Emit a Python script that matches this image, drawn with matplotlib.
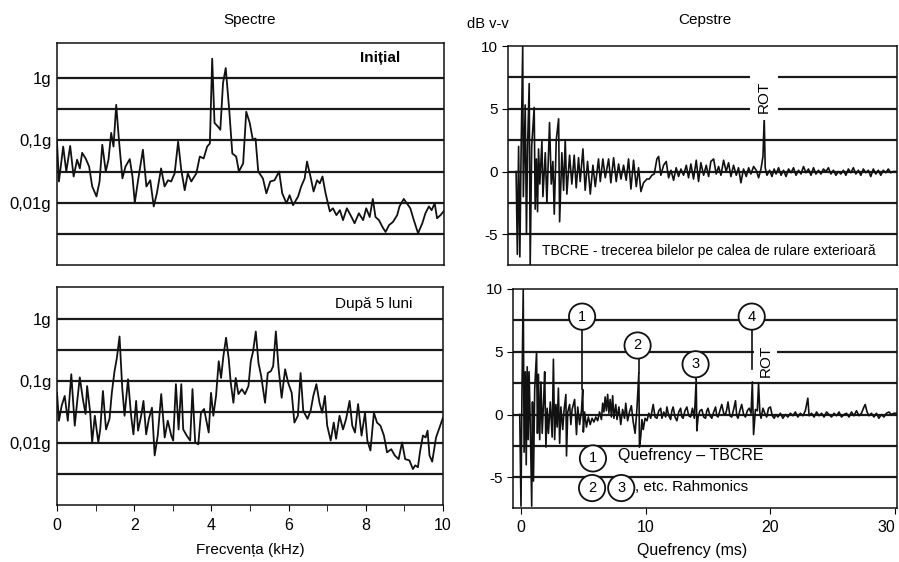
import matplotlib.pyplot as plt
import numpy as np

plt.rcParams["font.family"] = ["Liberation Sans", "DejaVu Sans"]

# --- spectrum, initial (kHz, log10 of amplitude in g)
init_f = [0.00, 0.05, 0.16, 0.24, 0.34, 0.43, 0.52, 0.59, 0.65, 0.74, 0.83, 0.91, 1.02, 1.10,
          1.17, 1.26, 1.33, 1.40, 1.46, 1.53, 1.60, 1.69, 1.77, 1.88, 1.95, 2.01, 2.09, 2.22,
          2.31, 2.41, 2.50, 2.58, 2.69, 2.78, 2.87, 2.95, 3.04, 3.13, 3.21, 3.30, 3.38, 3.47,
          3.60, 3.69, 3.79, 3.88, 3.95, 4.01, 4.07, 4.16, 4.22, 4.29, 4.36, 4.45, 4.53, 4.63,
          4.70, 4.81, 4.89, 4.98, 5.06, 5.13, 5.20, 5.32, 5.41, 5.51, 5.62, 5.74, 5.82, 5.93,
          6.01, 6.10, 6.23, 6.31, 6.40, 6.46, 6.55, 6.63, 6.72, 6.79, 6.86, 6.94, 7.05, 7.13,
          7.22, 7.31, 7.39, 7.49, 7.61, 7.69, 7.80, 7.91, 7.99, 8.08, 8.16, 8.23, 8.32, 8.41,
          8.49, 8.58, 8.68, 8.79, 8.85, 8.96, 9.04, 9.13, 9.22, 9.33, 9.44, 9.52, 9.61, 9.68,
          9.76, 9.82, 9.91, 10.0]
init_lg = [-1.02, -1.66, -1.10, -1.50, -1.09, -1.58, -1.31, -1.45, -1.20, -1.29, -1.42, -1.74,
           -1.90, -1.66, -1.07, -1.50, -1.31, -0.88, -1.10, -0.43, -0.99, -1.61, -1.42, -1.30,
           -1.58, -2.00, -1.66, -1.15, -1.74, -1.64, -2.06, -1.85, -1.45, -1.74, -1.64, -1.66,
           -1.53, -1.02, -1.47, -1.80, -1.53, -1.66, -1.53, -1.26, -1.29, -1.10, -1.05, 0.31,
           -0.72, -0.78, -0.83, -0.08, 0.16, -0.51, -1.21, -1.26, -1.50, -1.37, -0.54, -0.72,
           -0.99, -0.97, -1.50, -1.61, -1.85, -1.66, -1.64, -1.50, -1.85, -2.01, -1.88, -2.04,
           -1.90, -1.74, -1.61, -1.34, -1.58, -1.82, -1.64, -1.69, -1.58, -1.85, -2.14, -2.09,
           -2.20, -2.12, -2.28, -2.09, -2.23, -2.33, -2.17, -2.28, -2.09, -2.23, -1.94, -2.23,
           -2.28, -2.39, -2.47, -2.36, -2.31, -2.20, -2.06, -1.94, -2.01, -2.09, -2.28, -2.49,
           -2.33, -2.17, -2.06, -2.12, -2.01, -2.25, -2.20, -2.13]

# --- spectrum, after 5 months
late_f = [0.00, 0.05, 0.12, 0.20, 0.28, 0.37, 0.46, 0.52, 0.59, 0.67, 0.74, 0.78, 0.86, 0.91,
          0.98, 1.07, 1.12, 1.19, 1.27, 1.36, 1.42, 1.49, 1.55, 1.62, 1.69, 1.75, 1.84, 1.92,
          1.98, 2.05, 2.10, 2.18, 2.24, 2.31, 2.38, 2.46, 2.53, 2.61, 2.70, 2.79, 2.87, 2.96,
          3.01, 3.08, 3.15, 3.22, 3.27, 3.36, 3.45, 3.51, 3.58, 3.66, 3.73, 3.81, 3.88, 3.93,
          3.99, 4.05, 4.12, 4.19, 4.25, 4.31, 4.38, 4.45, 4.50, 4.57, 4.63, 4.70, 4.79, 4.87,
          4.96, 5.02, 5.08, 5.15, 5.22, 5.29, 5.39, 5.46, 5.54, 5.60, 5.67, 5.74, 5.82, 5.91,
          5.99, 6.08, 6.15, 6.24, 6.31, 6.38, 6.49, 6.57, 6.64, 6.72, 6.80, 6.87, 6.94, 7.00,
          7.09, 7.17, 7.23, 7.32, 7.41, 7.49, 7.58, 7.65, 7.72, 7.80, 7.89, 7.98, 8.04, 8.12,
          8.21, 8.29, 8.38, 8.47, 8.55, 8.66, 8.75, 8.85, 8.94, 9.02, 9.13, 9.22, 9.28, 9.35,
          9.41, 9.48, 9.55, 9.60, 9.65, 9.72, 9.82, 10.0]
late_lg = [-1.19, -1.64, -1.40, -1.24, -1.64, -0.89, -1.72, -1.35, -0.94, -1.29, -1.53, -1.08,
           -1.51, -1.99, -1.56, -1.99, -1.78, -1.16, -1.78, -1.61, -1.19, -0.84, -0.63, -0.28,
           -1.11, -1.56, -0.97, -1.56, -1.86, -1.32, -1.80, -1.56, -1.32, -1.86, -1.61, -1.43,
           -2.20, -1.88, -1.21, -1.91, -1.64, -1.88, -1.96, -1.05, -1.78, -1.05, -1.78, -1.88,
           -1.96, -1.13, -1.99, -2.02, -1.51, -1.45, -1.67, -1.83, -1.19, -1.56, -1.24, -0.68,
           -0.95, -0.60, -0.30, -0.65, -1.02, -1.35, -0.95, -1.21, -1.13, -1.21, -1.08, -0.68,
           -0.52, -0.20, -0.71, -0.92, -1.35, -0.87, -0.84, -0.76, -0.20, -0.79, -1.27, -0.81,
           -1.03, -1.19, -1.67, -1.56, -0.87, -1.48, -1.61, -1.48, -1.24, -1.05, -1.35, -1.51,
           -1.24, -1.72, -1.96, -1.67, -1.93, -1.56, -1.78, -1.61, -1.32, -1.72, -1.83, -1.37,
           -1.88, -1.51, -1.96, -2.12, -1.51, -1.67, -1.72, -1.88, -2.15, -2.10, -2.20, -2.26,
           -1.99, -2.26, -2.28, -2.42, -2.36, -2.39, -2.12, -1.88, -1.91, -1.80, -2.20, -2.30,
           -1.91, -1.59]

# --- cepstrum, initial (ms, dB v-v)
cep1_q = [-0.25, -0.15, -0.05, 0.05, 0.15, 0.28, 0.33, 0.48, 0.58, 0.67, 0.80, 0.88, 1.00,
          1.20, 1.28, 1.38, 1.47, 1.55, 1.65, 1.82, 1.90, 2.09, 2.22, 2.43, 2.57, 2.70, 2.81,
          2.97, 3.16, 3.24, 3.42, 3.56, 3.69, 3.82, 4.04, 4.22, 4.41, 4.57, 4.76, 4.89, 5.11,
          5.29, 5.48, 5.70, 5.91, 6.10, 6.36, 6.50, 6.71, 6.90, 7.17, 7.35, 7.57, 7.78, 7.97,
          8.16, 8.37, 8.58, 8.77, 8.96, 9.17, 9.39, 9.57, 9.76, 9.97, 10.24, 10.43, 10.64,
          10.83, 11.04, 11.18, 11.36, 11.58, 11.79, 11.98, 12.17, 12.38, 12.59, 12.78, 12.97,
          13.18, 13.40, 13.58, 13.77, 13.98, 14.20, 14.38, 14.57, 14.79, 15.00, 15.19, 15.37,
          15.59, 15.80, 15.99, 16.18, 16.39, 16.60, 16.79, 16.98, 17.19, 17.41, 17.59, 17.78,
          17.99, 18.21, 18.40, 18.58, 18.80, 19.01, 19.20, 19.39, 19.55, 19.65, 19.73, 19.87,
          20.08, 20.27, 20.45, 20.6, 20.8, 21.0, 21.2, 21.4, 21.6, 21.8, 22.0, 22.2, 22.4,
          22.6, 22.8, 23.0, 23.2, 23.4, 23.6, 23.8, 24.0, 24.2, 24.4, 24.6, 24.8, 25.0, 25.2,
          25.4, 25.6, 25.8, 26.0, 26.2, 26.4, 26.6, 26.8, 27.0, 27.2, 27.4, 27.6, 27.8, 28.0,
          28.2, 28.4, 28.6, 28.8, 29.0, 29.2, 29.4, 29.6, 29.8, 30.0, 30.3]
cep1_v = [0.0, -6.6, 2.0, -6.8, 1.5, 10.0, -2.0, 5.3, -5.0, 2.0, 7.0, -7.5, 2.0,
          5.1, -3.0, 1.0, -3.2, 1.8, -1.0, 2.4, -2.0, 1.5, -2.5, 3.9, -1.0, 0.8, -3.4,
          2.5, 4.2, -4.0, 1.5, -1.5, 2.5, -1.8, 1.3, -1.0, 1.3, -1.3, 1.1, -0.8, 1.8,
          -1.5, 0.8, -1.8, 0.5, -1.2, 1.0, -0.8, 1.0, -0.5, 1.0, -0.9, 1.1, -0.8, 0.6,
          -0.6, 0.5, -0.7, 1.0, -1.4, 0.9, -1.2, 0.3, -1.6, -0.9, -0.6, -0.6, -0.3,
          -0.2, 1.0, 1.2, -0.3, 0.5, 0.8, -0.5, 0.1, -0.7, 0.3, -0.4, 0.2,
          -0.3, 0.5, -0.5, 0.6, -0.6, 0.9, -0.8, 0.7, -0.3, 0.5, -0.4, 0.8,
          1.0, -0.2, 0.4, -0.3, 0.9, 0.0, 0.7, -0.4, 0.5, -0.3, 0.3, -0.9,
          0.2, -0.4, 0.3, -0.2, 0.4, 0.1, -0.5, 0.2, 1.2, 4.3, 0.3, -0.3,
          0.1, -0.4, 0.2, -0.2, 0.3, -0.3, 0.1, -0.4, 0.2, -0.1, 0.3, -0.3, 0.1,
          -0.2, 0.4, -0.1, 0.2, -0.3, 0.3, -0.2, 0.1, -0.2, 0.2, 0.0, 0.3, -0.2, 0.1,
          -0.3, 0.0, -0.2, 0.1, -0.3, 0.2, -0.1, 0.3, -0.2, 0.1, -0.3, 0.2, -0.1, 0.1,
          -0.4, 0.2, -0.2, 0.1, -0.3, 0.1, -0.1, 0.2, -0.1, 0.0, 0.0]

# --- cepstrum, after 5 months
cep2_q = [-0.1, 0.0, 0.08, 0.18, 0.25, 0.35, 0.42, 0.5, 0.58, 0.65, 0.75, 0.86, 0.92, 1.0,
          1.1, 1.25, 1.32, 1.4, 1.5, 1.6, 1.7, 1.82, 1.9, 2.0, 2.1, 2.2, 2.35, 2.5, 2.6, 2.7,
          2.8, 2.9, 3.0, 3.1, 3.2, 3.35, 3.45, 3.6, 3.65, 3.75, 3.9, 4.0, 4.1, 4.3, 4.45,
          4.55, 4.7, 4.85, 4.95, 5.0, 5.1, 5.25, 5.4, 5.55, 5.7, 5.85, 6.0, 6.15, 6.3, 6.45,
          6.55, 6.65, 6.75, 6.85, 6.95, 7.05, 7.15, 7.25, 7.35, 7.45, 7.6, 7.7, 7.85, 8.0,
          8.15, 8.3, 8.4, 8.55, 8.7, 8.85, 9.0, 9.15, 9.3, 9.45, 9.5, 9.6, 9.7, 9.8, 9.95,
          10.1, 10.25, 10.4, 10.6, 10.75, 10.9, 11.05, 11.2, 11.3, 11.45, 11.6, 11.7, 11.85,
          12.0, 12.1, 12.2, 12.35, 12.5, 12.65, 12.8, 12.9, 13.0, 13.15, 13.3, 13.45, 13.6,
          13.75, 13.9, 14.05, 14.1, 14.2, 14.35, 14.5, 14.65, 14.8, 14.9, 15.0, 15.15, 15.3,
          15.45, 15.6, 15.7, 15.8, 15.95, 16.1, 16.25, 16.4, 16.5, 16.6, 16.75, 16.9, 17.05,
          17.2, 17.3, 17.4, 17.55, 17.7, 17.85, 18.0, 18.15, 18.3, 18.45, 18.55, 18.65, 18.8,
          18.95, 19.05, 19.15, 19.25, 19.4, 19.55, 19.7, 19.85, 20.0, 20.15, 20.3, 20.45,
          20.6, 20.8, 21.0, 21.2, 21.4, 21.6, 21.8, 22.0, 22.2, 22.4, 22.6, 22.8, 23.0, 23.1,
          23.3, 23.5, 23.7, 23.9, 24.1, 24.3, 24.5, 24.7, 24.9, 25.1, 25.3, 25.5, 25.7, 25.9,
          26.1, 26.3, 26.5, 26.7, 26.9, 27.1, 27.3, 27.5, 27.6, 27.75, 27.9, 28.1, 28.3, 28.5,
          28.7, 28.9, 29.1, 29.3, 29.5, 29.7, 29.9, 30.15]
cep2_v = [0.0, -7.3, 2.0, 10.0, -3.0, 3.4, -4.0, 3.8, -2.0, 3.4, -1.0, -7.3, 1.0, -5.3,
          2.0, 5.0, -1.5, 3.2, -2.0, 2.6, -1.5, 1.2, 3.4, -2.6, 0.5, -1.5, 1.0, -1.8, 4.4, -2.0,
          0.8, -1.0, 2.1, -2.3, 0.6, -1.2, 0.3, 1.6, -3.3, 0.2, 0.8, -0.8, 0.4, 1.2, -1.6,
          0.6, -0.8, 0.3, 2.0, -1.4, 0.2, -1.0, -0.2, -0.8, -0.3, -0.6, -0.2, -0.5, 0.2, -0.4,
          0.9, 0.2, 1.4, 0.3, 1.6, 0.1, 1.2, -0.2, 1.5, -0.3, 0.8, -0.4, 0.6, -0.8,
          0.4, -0.3, 0.9, -0.5, 0.2, 0.7, -0.6, -1.5, 0.5, 3.3, -2.6, -1.8, -0.4, -1.2, -0.3,
          -0.5, 0.1, -0.3, 0.8, -0.2, -0.3, 0.3, 0.5, -0.3, 0.2, -0.2, 0.6, -0.1,
          -0.4, 0.3, 0.6, -0.2, -0.5, 0.2, 0.5, -0.2, -0.3, 0.3, 0.6, -0.1, -0.2,
          0.5, -0.3, 2.8, -1.3, -0.2, 0.3, 0.4, -0.2, -0.3, 0.3, 0.5, -0.1, -0.3,
          0.2, 0.6, -0.1, -0.2, 0.3, 0.8, 0.1, 0.0, 0.4, 1.0, -0.1, -0.2, 0.4,
          1.1, -0.1, -0.3, 0.3, 0.8, 0.0, -0.2, 0.3, 0.5, 0.1, 2.6, -1.6, 0.4,
          0.3, 2.5, 0.2, -0.3, 0.5, 0.1, -0.2, 0.5, 0.6, -0.1, -0.3, 0.0,
          -0.2, 0.1, -0.3, 0.0, -0.2, 0.1, -0.1, 0.2, -0.2, 0.1, -0.1, 0.3, 1.3, -0.1,
          0.1, -0.2, 0.2, -0.1, 0.1, -0.2, 0.2, 0.0, -0.2, 0.1, -0.1, 0.2, -0.2, 0.0,
          0.1, -0.2, 0.2, -0.1, 0.3, -0.1, 0.1, 0.6, 0.8, 0.2, -0.1, 0.1, -0.2, 0.1,
          -0.3, 0.0, -0.2, 0.1, 0.2, 0.0, 0.1, 0.1]

spec_ticks = [1, 0.1, 0.01]
spec_ticklabels = ["1g", "0,1g", "0,01g"]
cep_ticks = [10, 5, 0, -5]
cep_ticklabels = ["10", "5", "0", "-5"]

W, H = 899, 562
fig = plt.figure(figsize=(W / 100, H / 100), dpi=100)


def box(l, t, r, b):
    return [l / W, 1 - b / H, (r - l) / W, (b - t) / H]


ax1 = fig.add_axes(box(57, 43, 444, 265))
ax2 = fig.add_axes(box(57, 287, 443, 505))
ax3 = fig.add_axes(box(508, 46, 897, 265))
ax4 = fig.add_axes(box(513, 289, 897, 508))

INK = "#111111"


def spectrum(ax, f, lg, top):
    for k in range(-5, 1):
        ax.axhline(10 ** (k / 2), color="#1a1a1a", lw=1.6, zorder=1)
    ax.plot(f, 10 ** np.array(lg), color=INK, lw=1.3, zorder=3)
    ax.set_yscale("log")
    ax.set_ylim(0.001, top)
    ax.set_xlim(0, 10)
    ax.set_yticks(spec_ticks, spec_ticklabels)
    ax.yaxis.set_minor_locator(plt.NullLocator())
    ax.tick_params(axis="y", length=0, pad=4, labelsize=12)


def cepstrum(ax, q, v, lims):
    for g in [7.5, 5, 2.5, 0, -2.5, -5]:
        ax.axhline(g, color="#1a1a1a", lw=1.6, zorder=1)
    ax.plot(q, v, color=INK, lw=1.2, zorder=3)
    ax.set_xlim(*lims)
    ax.set_ylim(-7.45, 10)
    ax.set_yticks(cep_ticks, cep_ticklabels)
    ax.tick_params(axis="y", length=4, pad=3, labelsize=11)


spectrum(ax1, init_f, init_lg, 3.65)
spectrum(ax2, late_f, late_lg, 3.3)
cepstrum(ax3, cep1_q, cep1_v, (-0.9, 30.3))
cepstrum(ax4, cep2_q, cep2_v, (-0.64, 30.15))

ax1.set_xticks([])
ax3.set_xticks([])
ax2.set_xticks(range(0, 11, 2))
ax2.set_xticks(range(1, 10, 2), minor=True)
ax2.tick_params(axis="x", which="both", length=4, pad=5, labelsize=11.5)
ax4.set_xticks([0, 10, 20, 30])
ax4.tick_params(axis="x", length=4, pad=5, labelsize=11.5)
ax4.get_xticklabels()[-1].set_horizontalalignment("right")

for ax in (ax1, ax2, ax3, ax4):
    for s in ax.spines.values():
        s.set_linewidth(1.1)
        s.set_color(INK)

ax1.text(8.35, 2.1, "Inițial", ha="center", va="center", fontsize=11, fontweight="bold")
ax2.text(8.2, 1.74, "După 5 luni", ha="center", va="center", fontsize=11)

fig.text(250 / W, 1 - 20 / H, "Spectre", ha="center", va="center", fontsize=11)
fig.text(705 / W, 1 - 20 / H, "Cepstre", ha="center", va="center", fontsize=11)
fig.text(488 / W, 1 - 24 / H, "dB v-v", ha="center", va="center", fontsize=10.5)
fig.text(250 / W, 1 - 550 / H, "Frecvența (kHz)", ha="center", va="center", fontsize=11)
fig.text(692 / W, 1 - 550 / H, "Quefrency (ms)", ha="center", va="center", fontsize=11.5)

# top cepstrum notes
ax3.text(19.65, 5.95, "ROT", rotation=90, ha="center", va="center", fontsize=11,
         bbox=dict(fc="white", ec="none", pad=5), zorder=4)
ax3.text(15.2, -6.3, "TBCRE - trecerea bilelor pe calea de rulare exterioară",
         ha="center", va="center", fontsize=10, zorder=4)

# bottom cepstrum notes
circ = dict(boxstyle="circle,pad=0.42", fc="white", ec=INK, lw=1.3)
stems = [(4.93, 6.8, 2.0), (9.43, 4.4, 3.3), (14.05, 3.0, 2.8), (18.5, 6.8, 3.6)]
for x, y0, y1 in stems:
    ax4.plot([x, x], [y0, y1], color=INK, lw=1.2, zorder=3)
for lab, x, y in [("1", 4.9, 7.8), ("2", 9.35, 5.5), ("3", 14.0, 4.0), ("4", 18.5, 7.8),
                  ("1", 5.77, -3.5), ("2", 5.7, -5.86), ("3", 8.04, -5.86)]:
    ax4.text(x, y, lab, ha="center", va="center", fontsize=10.5, bbox=circ, zorder=5)
ax4.text(19.6, 4.3, "ROT", rotation=90, ha="center", va="center", fontsize=11,
         bbox=dict(fc="white", ec="none", pad=3), zorder=4)
ax4.text(7.8, -3.3, "Quefrency – TBCRE", ha="left", va="center", fontsize=11.5, zorder=6)
ax4.text(9.15, -5.8, ", etc. Rahmonics", ha="left", va="center", fontsize=11, zorder=6)

fig.savefig("out.png", dpi=100)
